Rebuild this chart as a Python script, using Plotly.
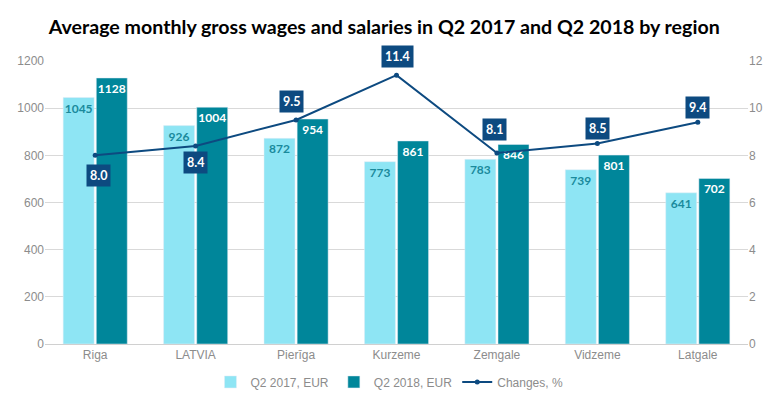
import plotly.graph_objects as go

regions = ["Riga", "LATVIA", "Pierīga", "Kurzeme", "Zemgale", "Vidzeme", "Latgale"]
wages_2017 = [1045, 926, 872, 773, 783, 739, 641]
wages_2018 = [1128, 1004, 954, 861, 846, 801, 702]
changes = [8.0, 8.4, 9.5, 11.4, 8.1, 8.5, 9.4]
left_ticks = [0, 200, 400, 600, 800, 1000, 1200]
right_ticks = [0, 2, 4, 6, 8, 10, 12]

# label offsets (pixels) for change labels
label_dx = [3, 0, -5, 1, -2, 0, 0]
label_dy = [20, 17, -18, -19, -23, -15, -15]

LIGHT = "#8ee5f4"
DARK = "#00869a"
NAVY = "#0d4a80"
LABEL_FONT = "Lato"

fig = go.Figure()
fig.add_trace(go.Bar(
    x=regions, y=wages_2017, name="Q2 2017, EUR", marker_color=LIGHT,
    text=[str(v) for v in wages_2017], textposition="inside", insidetextanchor="end",
    textfont=dict(color="#1a8a9c", size=12, family=LABEL_FONT, weight="bold"),
    textangle=0, cliponaxis=False,
))
fig.add_trace(go.Bar(
    x=regions, y=wages_2018, name="Q2 2018, EUR", marker_color=DARK,
    text=[str(v) for v in wages_2018], textposition="inside", insidetextanchor="end",
    textfont=dict(color="white", size=12, family=LABEL_FONT, weight="bold"),
    textangle=0, cliponaxis=False,
))
fig.add_trace(go.Scatter(
    x=regions, y=changes, name="Changes, %", yaxis="y2", mode="lines+markers",
    line=dict(color=NAVY, width=2), marker=dict(color=NAVY, size=5),
))

for r, c, dx, dy in zip(regions, changes, label_dx, label_dy):
    fig.add_annotation(
        x=r, y=c, xref="x", yref="y2", text=f"{c:.1f}", showarrow=False,
        xshift=dx, yshift=-dy, bgcolor=NAVY, borderpad=3,
        font=dict(color="white", size=12.5, family=LABEL_FONT, weight="bold"),
    )

# the page body has an 8px default margin, so the figure is drawn 8px in
fig.update_layout(
    width=771, height=391,
    margin=dict(l=37, r=31, t=53, b=55, autoexpand=False),
    paper_bgcolor="white", plot_bgcolor="white",
    barmode="group", bargap=0.34, bargroupgap=0.065,
    uniformtext=dict(minsize=12, mode="show"),
    title=dict(text="Average monthly gross wages and salaries in Q2 2017 and Q2 2018 by region",
               x=0.488, xanchor="center", y=0.951, yanchor="middle",
               font=dict(family="Lato", size=19.6, color="black", weight="bold")),
    font=dict(family="Liberation Sans", size=12, color="#8c8c8c"),
    xaxis=dict(showline=True, linecolor="#d0d0d0", linewidth=1, ticks="", automargin=False,
               tickfont=dict(size=12, color="#8c8c8c")),
    yaxis=dict(range=[0, 1200], tickvals=left_ticks, showgrid=True, gridcolor="#d9d9d9",
               zeroline=False, ticks="", automargin=False, tickfont=dict(size=12, color="#8c8c8c")),
    yaxis2=dict(range=[0, 12], tickvals=right_ticks, overlaying="y", side="right",
                showgrid=False, zeroline=False, ticks="", automargin=False,
                tickfont=dict(size=12, color="#8c8c8c")),
    legend=dict(orientation="h", x=0.49, xanchor="center", y=-0.134, yanchor="middle",
                font=dict(size=12, color="#8c8c8c"), itemwidth=30, tracegroupgap=0),
)

fig.write_html("out.html")
